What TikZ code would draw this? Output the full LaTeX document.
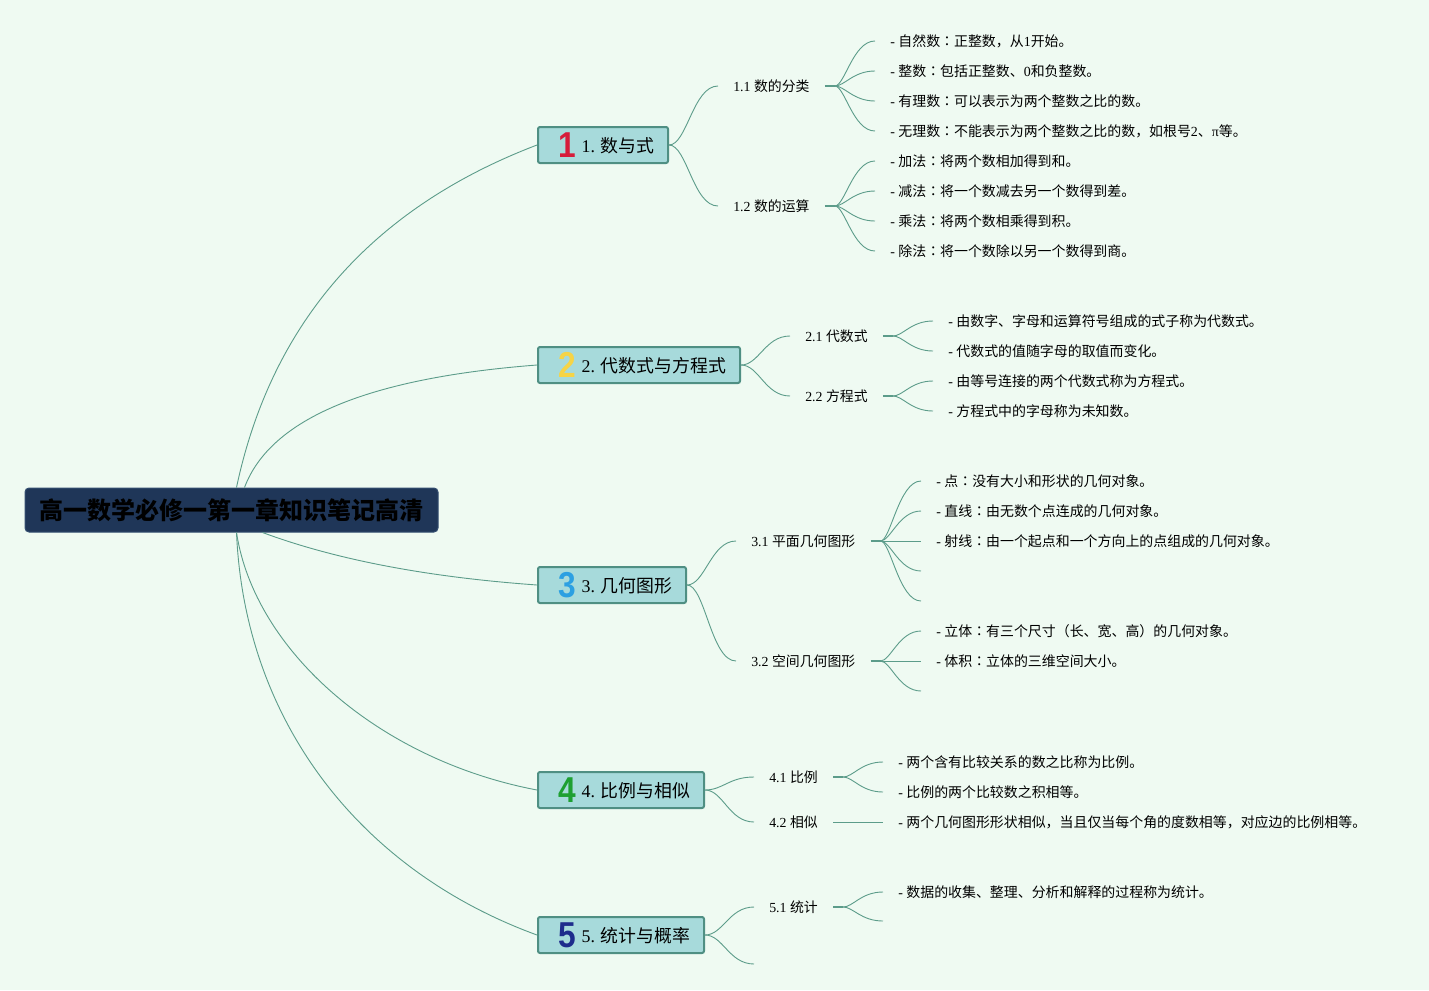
\documentclass[tikz,border=0pt]{standalone}
\usepackage{fontspec}
\usepackage{graphicx}
\setmainfont{Noto Sans CJK SC}
\newfontfamily\lat{Liberation Serif}
\newfontfamily\iconf{Liberation Sans}
\newfontfamily\tcf{Noto Sans CJK TC}
\newcommand{\cc}{{\tcf ：}}
\newdimen\px \px=0.75pt
\definecolor{bg}{RGB}{239,250,242}
\definecolor{linkc}{RGB}{92,156,138}
\definecolor{boxfill}{RGB}{167,218,219}
\definecolor{boxline}{RGB}{79,143,131}
\definecolor{rootfill}{RGB}{31,54,88}
\definecolor{rootline}{RGB}{52,78,112}
\definecolor{icA}{RGB}{214,28,58}
\definecolor{icB}{RGB}{246,212,70}
\definecolor{icC}{RGB}{44,160,226}
\definecolor{icD}{RGB}{30,160,50}
\definecolor{icE}{RGB}{30,44,140}
\newcommand{\ico}[2]{\raisebox{-5\px}{\scalebox{0.88}[1]{\fontsize{27pt}{27pt}\iconf\bfseries\color{#1}#2}}}
\newcommand{\btext}[4]{\raisebox{-7\px}[0pt][0pt]{\makebox[#1][l]{\hspace{20\px}\ico{#2}{#3}\hspace{6\px}#4}}}
\begin{document}
\begin{tikzpicture}[x=0.75pt,y=-0.75pt,
  root/.style={fill=rootfill, draw=rootline, line width=1\px, rounded corners=4\px,
    minimum width=413\px, minimum height=44\px, inner sep=0pt,
    font=\fontsize{18pt}{20pt}\selectfont\bfseries, text=black},
  branch/.style={fill=boxfill, draw=boxline, line width=2\px, rounded corners=2\px,
    minimum height=36\px, inner sep=0pt, font=\fontsize{13.4pt}{15pt}\selectfont},
  sub/.style={anchor=west, inner xsep=15\px, inner ysep=2\px, font=\fontsize{10.4pt}{12pt}\selectfont},
  leaf/.style={anchor=west, inner xsep=15\px, inner ysep=2\px, font=\fontsize{10.45pt}{12pt}\selectfont},
  link/.style={draw=linkc, line width=0.9\px},
  stem/.style={draw=linkc, line width=2.5\px},
]
\fill[bg] (0,0) rectangle (1429,990);
\useasboundingbox (0,0) rectangle (1429,990);

% root
\node[root] (root) at (231.5,510) {高一数学必修一第一章知识笔记高清};

% branches
\node[branch] (b1) at (603,145) {\btext{130\px}{icA}{1}{{\lat 1. }数与式}};
\node[branch] (b2) at (639,365) {\btext{202\px}{icB}{2}{{\lat 2. }代数式与方程式}};
\node[branch] (b3) at (612,585) {\btext{148\px}{icC}{3}{{\lat 3. }几何图形}};
\node[branch] (b4) at (621,790) {\btext{166\px}{icD}{4}{{\lat 4. }比例与相似}};
\node[branch] (b5) at (621,935) {\btext{166\px}{icE}{5}{{\lat 5. }统计与概率}};

% root links
\draw[link] ([xshift=212\px]root.north west) .. controls +(35,-165) and +(-165,63) .. (b1.west);
\draw[link] ([xshift=220\px]root.north west) .. controls +(26,-69) and +(-169,13) .. (b2.west);
\draw[link] ([xshift=238\px]root.south west) .. controls +(73,27) and +(-111,-8) .. (b3.west);
\draw[link] ([xshift=212\px]root.south west) .. controls +(18,118) and +(-158,-30) .. (b4.west);
\draw[link] ([xshift=212\px]root.south west) .. controls +(8,188) and +(-178,-65) .. (b5.west);

% subtopics
\node[sub] (s11) at (718,86)  {{\lat 1.1 }数的分类};
\node[sub] (s12) at (718,206) {{\lat 1.2 }数的运算};
\node[sub] (s21) at (790,336) {{\lat 2.1 }代数式};
\node[sub] (s22) at (790,396) {{\lat 2.2 }方程式};
\node[sub] (s31) at (736,541) {{\lat 3.1 }平面几何图形};
\node[sub] (s32) at (736,661) {{\lat 3.2 }空间几何图形};
\node[sub] (s41) at (754,777) {{\lat 4.1 }比例};
\node[sub] (s42) at (754,822) {{\lat 4.2 }相似};
\node[sub] (s51) at (754,907) {{\lat 5.1 }统计};
\coordinate (s52) at (754,964);

\foreach \b/\s in {b1/s11,b1/s12,b2/s21,b2/s22,b3/s31,b3/s32,b4/s41,b4/s42,b5/s51}
  \draw[link] (\b.east) .. controls +(18,0) and +(-25,0) .. (\s.west);
\draw[link] (b5.east) .. controls +(18,0) and +(-25,0) .. (s52);

% stems
\foreach \s in {s11,s12,s21,s22,s31,s32,s41,s51}
  \draw[stem] (\s.east) -- ([xshift=10\px]\s.east);

% leaves: branch 1
\node[leaf] (l11a) at (875,41)  {{\lat - }自然数\cc 正整数，从{\lat 1}开始。};
\node[leaf] (l11b) at (875,71)  {{\lat - }整数\cc 包括正整数、{\lat 0}和负整数。};
\node[leaf] (l11c) at (875,101) {{\lat - }有理数\cc 可以表示为两个整数之比的数。};
\node[leaf] (l11d) at (875,131) {{\lat - }无理数\cc 不能表示为两个整数之比的数，如根号{\lat 2}、{\lat π}等。};
\node[leaf] (l12a) at (875,161) {{\lat - }加法\cc 将两个数相加得到和。};
\node[leaf] (l12b) at (875,191) {{\lat - }减法\cc 将一个数减去另一个数得到差。};
\node[leaf] (l12c) at (875,221) {{\lat - }乘法\cc 将两个数相乘得到积。};
\node[leaf] (l12d) at (875,251) {{\lat - }除法\cc 将一个数除以另一个数得到商。};
% branch 2
\node[leaf] (l21a) at (933,321) {{\lat - }由数字、字母和运算符号组成的式子称为代数式。};
\node[leaf] (l21b) at (933,351) {{\lat - }代数式的值随字母的取值而变化。};
\node[leaf] (l22a) at (933,381) {{\lat - }由等号连接的两个代数式称为方程式。};
\node[leaf] (l22b) at (933,411) {{\lat - }方程式中的字母称为未知数。};
% branch 3
\node[leaf] (l31a) at (921,481) {{\lat - }点\cc 没有大小和形状的几何对象。};
\node[leaf] (l31b) at (921,511) {{\lat - }直线\cc 由无数个点连成的几何对象。};
\node[leaf] (l31c) at (921,541) {{\lat - }射线\cc 由一个起点和一个方向上的点组成的几何对象。};
\coordinate (l31d) at (921,571);
\coordinate (l31e) at (921,601);
\node[leaf] (l32a) at (921,631) {{\lat - }立体\cc 有三个尺寸（长、宽、高）的几何对象。};
\node[leaf] (l32b) at (921,661) {{\lat - }体积\cc 立体的三维空间大小。};
\coordinate (l32c) at (921,691);
% branch 4
\node[leaf] (l41a) at (883,762) {{\lat - }两个含有比较关系的数之比称为比例。};
\node[leaf] (l41b) at (883,792) {{\lat - }比例的两个比较数之积相等。};
\node[leaf] (l42a) at (883,822) {{\lat - }两个几何图形形状相似，当且仅当每个角的度数相等，对应边的比例相等。};
% branch 5
\node[leaf] (l51a) at (883,892) {{\lat - }数据的收集、整理、分析和解释的过程称为统计。};
\coordinate (l51b) at (883,921);

% fan links
\foreach \s/\l in {s11/l11a.west,s11/l11b.west,s11/l11c.west,s11/l11d.west,
                   s12/l12a.west,s12/l12b.west,s12/l12c.west,s12/l12d.west,
                   s21/l21a.west,s21/l21b.west,s22/l22a.west,s22/l22b.west,
                   s31/l31a.west,s31/l31b.west,s31/l31c.west,s31/l31d,s31/l31e,
                   s32/l32a.west,s32/l32b.west,s32/l32c,
                   s41/l41a.west,s41/l41b.west,s51/l51a.west,s51/l51b}
  \draw[link] ([xshift=10\px]\s.east) .. controls +(10,0) and +(-22,0) .. (\l);
\draw[link] (s42.east) -- (l42a.west);
\end{tikzpicture}
\end{document}
